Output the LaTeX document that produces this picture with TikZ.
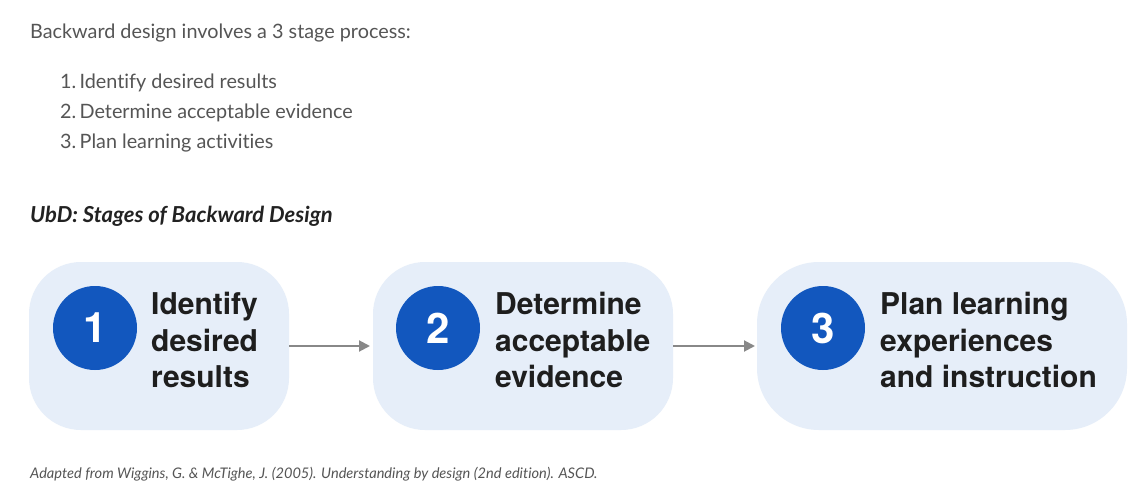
\documentclass[tikz,border=0pt]{standalone}
\usepackage{fontspec}
\setmainfont{Lato}[Ligatures=NoCommon]
\newfontfamily\helv{TeX Gyre Heros}
\usetikzlibrary{arrows.meta}
\definecolor{bodygray}{HTML}{555555}
\definecolor{titleblack}{HTML}{222222}
\definecolor{boxfill}{HTML}{E6EEF9}
\definecolor{circblue}{HTML}{1257BE}
\definecolor{arrowgray}{HTML}{888888}
\definecolor{boxtext}{HTML}{1E1E1E}
\tikzset{
  stagebox/.style={fill=boxfill, draw=none},
  numcirc/.style={circle, fill=circblue, minimum size=84pt, inner sep=0pt, text=white, font=\helv\bfseries\fontsize{42}{42}\selectfont},
  stagetext/.style={anchor=north west, inner sep=0pt, align=left, text=boxtext, font=\helv\bfseries\fontsize{30}{36.5}\selectfont},
  bodytext/.style={anchor=base west, inner sep=0pt, text=bodygray, font=\fontsize{19.8}{22}\selectfont},
  flowarrow/.style={draw=arrowgray, line width=2pt, -{Triangle[length=11pt,width=11pt]}},
}
\begin{document}
\begin{tikzpicture}[x=1pt,y=-1pt]
\useasboundingbox[fill=white] (0,0) rectangle (1146,500);
% header texts
\node[bodytext] (intro) at (30,39) {Backward design involves a 3 stage process:};
\node[bodytext] (l1) at (60,89) {1.\,Identify desired results};
\node[bodytext] (l2) at (60,119) {2.\,Determine acceptable evidence};
\node[bodytext] (l3) at (60,148.5) {3.\,Plan learning activities};
\node[anchor=base west, inner sep=0pt, text=titleblack, font=\bfseries\itshape\fontsize{22}{24}\selectfont] (title) at (30,222) {UbD: Stages of Backward Design};
% boxes
\path[stagebox, rounded corners=52pt] (29,262) rectangle (289,430);
\path[stagebox, rounded corners=52pt] (373,262) rectangle (673,430);
\path[stagebox, rounded corners=62pt] (757,262) rectangle (1127,430);
\node[coordinate] (b1e) at (289,346) {};
\node[coordinate] (b2w) at (370,346) {};
\node[coordinate] (b2e) at (673,346) {};
\node[coordinate] (b3w) at (755,346) {};
% circles
\node[numcirc] (c1) at (95,328) {1};
\node[numcirc] (c2) at (438,328) {2};
\node[numcirc] (c3) at (823,328) {3};
% stage texts
\node[stagetext] (t1) at (151,292) {Identify\\desired\\results};
\node[stagetext] (t2) at (495,292) {Determine\\acceptable\\evidence};
\node[stagetext] (t3) at (880,292) {Plan learning\\experiences\\and instruction};
% arrows
\draw[flowarrow] (b1e) -- (b2w);
\draw[flowarrow] (b2e) -- (b3w);
% footnote
\node[anchor=base west, inner sep=0pt, text=bodygray, font=\itshape\fontsize{14.6}{16}\selectfont] (foot) at (30,478) {Adapted from Wiggins, G. \& McTighe, J. (2005). Understanding by design (2nd edition). ASCD.};
\end{tikzpicture}
\end{document}
